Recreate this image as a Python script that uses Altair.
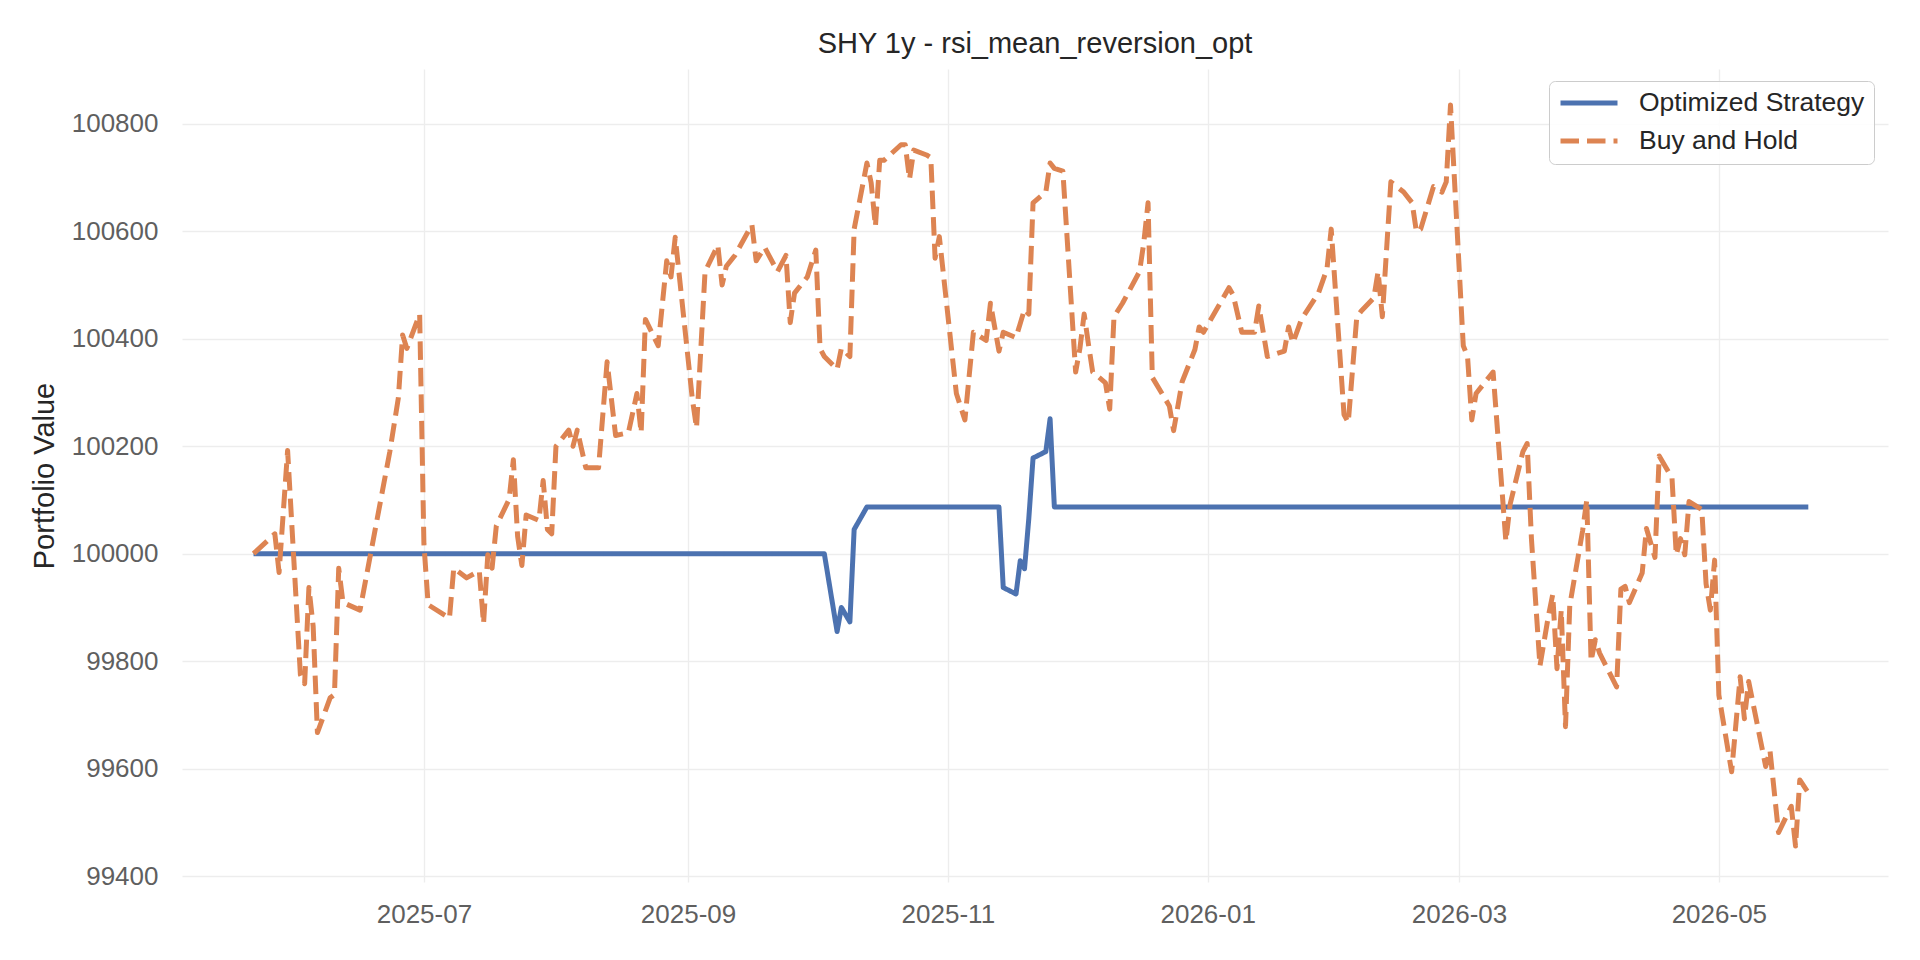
import pandas as pd
import altair as alt

# series
series_names = ["Optimized Strategy", "Buy and Hold"]
series_colors = ["#4C72B0", "#DD8452"]
series_dashes = [[1, 0], [18.5, 8]]

strat_dates = ["2025-05-22", "2025-10-03", "2025-10-06", "2025-10-07", "2025-10-09",
               "2025-10-10", "2025-10-13", "2025-11-13", "2025-11-14", "2025-11-17",
               "2025-11-18", "2025-11-19", "2025-11-20", "2025-11-21", "2025-11-24",
               "2025-11-25", "2025-11-26", "2026-05-22"]
strat_values = [100000, 100000, 99855, 99900, 99873,
                100045, 100087, 100087, 99937, 99925,
                99987, 99972, 100065, 100178, 100190,
                100251, 100087, 100087]

bh_dates = [
    "2025-05-22", "2025-05-27", "2025-05-28", "2025-05-30", "2025-06-02", "2025-06-03",
    "2025-06-04", "2025-06-05", "2025-06-06", "2025-06-09", "2025-06-10", "2025-06-11",
    "2025-06-12", "2025-06-16", "2025-06-23", "2025-06-25", "2025-06-26", "2025-06-27",
    "2025-06-30", "2025-07-01", "2025-07-02", "2025-07-07", "2025-07-08", "2025-07-11",
    "2025-07-14", "2025-07-15", "2025-07-16", "2025-07-17", "2025-07-18", "2025-07-21",
    "2025-07-22", "2025-07-23", "2025-07-24", "2025-07-25", "2025-07-28", "2025-07-29",
    "2025-07-30", "2025-07-31", "2025-08-01", "2025-08-04", "2025-08-05", "2025-08-06",
    "2025-08-08", "2025-08-11", "2025-08-13", "2025-08-14", "2025-08-15", "2025-08-18",
    "2025-08-20", "2025-08-21", "2025-08-22", "2025-08-25", "2025-08-27", "2025-08-28",
    "2025-08-29", "2025-09-02", "2025-09-03", "2025-09-05", "2025-09-08", "2025-09-09",
    "2025-09-10", "2025-09-12", "2025-09-16", "2025-09-17", "2025-09-19", "2025-09-22",
    "2025-09-24", "2025-09-25", "2025-09-26", "2025-09-29", "2025-10-01", "2025-10-02",
    "2025-10-03", "2025-10-06", "2025-10-07", "2025-10-09", "2025-10-10", "2025-10-13",
    "2025-10-14", "2025-10-15", "2025-10-16", "2025-10-17", "2025-10-21", "2025-10-22",
    "2025-10-23", "2025-10-24", "2025-10-27", "2025-10-28", "2025-10-29", "2025-10-30",
    "2025-11-03", "2025-11-05", "2025-11-07", "2025-11-10", "2025-11-11", "2025-11-13",
    "2025-11-14", "2025-11-17", "2025-11-19", "2025-11-20", "2025-11-21", "2025-11-24",
    "2025-11-25", "2025-11-26", "2025-11-28", "2025-12-01", "2025-12-02", "2025-12-03",
    "2025-12-04", "2025-12-05", "2025-12-08", "2025-12-09", "2025-12-10", "2025-12-12",
    "2025-12-16", "2025-12-17", "2025-12-18", "2025-12-19", "2025-12-23", "2025-12-24",
    "2025-12-26", "2025-12-29", "2025-12-30", "2025-12-31", "2026-01-06", "2026-01-07",
    "2026-01-09", "2026-01-12", "2026-01-13", "2026-01-15", "2026-01-19", "2026-01-20",
    "2026-01-21", "2026-01-23", "2026-01-27", "2026-01-29", "2026-01-30", "2026-02-02",
    "2026-02-03", "2026-02-05", "2026-02-06", "2026-02-09", "2026-02-10", "2026-02-11",
    "2026-02-13", "2026-02-16", "2026-02-18", "2026-02-19", "2026-02-20", "2026-02-23",
    "2026-02-25", "2026-02-26", "2026-02-27", "2026-03-02", "2026-03-03", "2026-03-04",
    "2026-03-05", "2026-03-09", "2026-03-12", "2026-03-13", "2026-03-16", "2026-03-17",
    "2026-03-18", "2026-03-20", "2026-03-22", "2026-03-23", "2026-03-24", "2026-03-25",
    "2026-03-26", "2026-03-27", "2026-03-30", "2026-03-31", "2026-04-01", "2026-04-02",
    "2026-04-03", "2026-04-07", "2026-04-08", "2026-04-09", "2026-04-10", "2026-04-13",
    "2026-04-14", "2026-04-16", "2026-04-17", "2026-04-20", "2026-04-21", "2026-04-22",
    "2026-04-23", "2026-04-24", "2026-04-27", "2026-04-28", "2026-04-29", "2026-04-30",
    "2026-05-01", "2026-05-04", "2026-05-06", "2026-05-07", "2026-05-08", "2026-05-12",
    "2026-05-13", "2026-05-15", "2026-05-18", "2026-05-19", "2026-05-20", "2026-05-22",
]
bh_values = [
    100000, 100037, 99965, 100192, 99775, 99758,
    99937, 99865, 99667, 99732, 99738, 99973,
    99909, 99895, 100190, 100290, 100407, 100382,
    100446, 100018, 99905, 99880, 99973, 99955,
    99968, 99870, 99998, 99973, 100052, 100101,
    100175, 100032, 99978, 100072, 100062, 100136,
    100045, 100037, 100200, 100230, 100200, 100230,
    100160, 100160, 100357, 100289, 100220, 100225,
    100298, 100225, 100436, 100387, 100545, 100515,
    100589, 100289, 100234, 100525, 100574, 100500,
    100535, 100555, 100612, 100545, 100570, 100525,
    100555, 100430, 100485, 100515, 100565, 100382,
    100367, 100343, 100382, 100367, 100604, 100727,
    100690, 100609, 100732, 100732, 100761, 100761,
    100697, 100751, 100742, 100737, 100550, 100590,
    100298, 100249, 100412, 100397, 100466, 100377,
    100412, 100402, 100455, 100446, 100653, 100673,
    100727, 100717, 100712, 100338, 100382, 100446,
    100390, 100338, 100318, 100269, 100441, 100466,
    100525, 100579, 100653, 100328, 100275, 100229,
    100320, 100380, 100422, 100412, 100495, 100481,
    100412, 100412, 100461, 100367, 100377, 100422,
    100392, 100436, 100485, 100530, 100604, 100259,
    100244, 100441, 100451, 100476, 100525, 100441,
    100692, 100673, 100653, 100599, 100604, 100683,
    100673, 100692, 100835, 100387, 100367, 100249,
    100298, 100338, 100023, 100092, 100190, 100205,
    100028, 99791, 99885, 99924, 99786, 99895,
    99678, 99904, 100042, 100100, 99800, 99840,
    99815, 99752, 99934, 99939, 99909, 99964,
    100047, 99993, 100182, 100141, 99998, 100028,
    99998, 100097, 100082, 99944, 99895, 99988,
    99737, 99594, 99771, 99693, 99762, 99604,
    99634, 99481, 99530, 99456, 99579, 99555,
]

y_ticks = [99400, 99600, 99800, 100000, 100200, 100400, 100600, 100800]
x_tick_months = [(2025, 7), (2025, 9), (2025, 11), (2026, 1), (2026, 3), (2026, 5)]

strategy = pd.DataFrame({"date": strat_dates, "value": strat_values, "series": series_names[0]})
buyhold = pd.DataFrame({"date": bh_dates, "value": bh_values, "series": series_names[1]})
data = pd.concat([strategy, buyhold], ignore_index=True)

FONT = "Liberation Sans"

x_ticks = [alt.DateTime(year=y, month=m, date=1, utc=True) for y, m in x_tick_months]
x_domain = [alt.DateTime(year=2025, month=5, date=5, hours=5, utc=True),
            alt.DateTime(year=2026, month=6, date=9, hours=17, utc=True)]

legend = alt.Legend(
    title=None, orient="none", legendX=1367, legendY=12,
    symbolType="stroke", symbolSize=3249, symbolStrokeWidth=5, clipHeight=26,
    labelFont=FONT, labelFontSize=26.5, labelColor="#262626", labelOffset=19,
    labelLimit=500, padding=9, rowPadding=11, fillColor="rgba(255,255,255,0.85)",
    strokeColor="#CCCCCC", cornerRadius=6,
)

base = alt.Chart(data).mark_line(strokeWidth=5, strokeJoin="round").encode(
    x=alt.X("date:T", title=None,
            scale=alt.Scale(type="utc", domain=x_domain),
            axis=alt.Axis(values=x_ticks, format="%Y-%m", labelPadding=19)),
    y=alt.Y("value:Q", title="Portfolio Value",
            scale=alt.Scale(domain=[99389, 100902], zero=False, nice=False),
            axis=alt.Axis(values=y_ticks, format="d", labelPadding=24,
                          titleAngle=270, titleX=-129, titleY=406.5,
                          titleAlign="center", titleBaseline="alphabetic")),
    color=alt.Color("series:N", title=None,
                    scale=alt.Scale(domain=series_names, range=series_colors),
                    legend=legend),
    strokeDash=alt.StrokeDash("series:N", title=None,
                              scale=alt.Scale(domain=series_names, range=series_dashes),
                              legend=legend),
)

# strategy first, buy and hold drawn on top of it
chart = alt.layer(
    base.transform_filter(alt.datum.series == series_names[0]),
    base.transform_filter(alt.datum.series == series_names[1]),
).properties(
    width=1706, height=813,
    title=alt.TitleParams("SHY 1y - rsi_mean_reversion_opt", font=FONT, fontSize=29,
                          fontWeight="normal", color="#262626", anchor="middle",
                          offset=10),
    autosize=alt.AutoSizeParams(type="none"),
    padding={"left": 174, "top": 61, "right": 24, "bottom": 70},
    background="white",
).configure_axis(
    grid=True, gridColor="#EDEDED", gridWidth=1.4,
    domain=False, ticks=False,
    labelFont=FONT, labelFontSize=26, labelColor="#5f5f5f",
    titleFont=FONT, titleFontSize=29, titleFontWeight="normal", titleColor="#262626",
).configure_view(stroke="transparent")

chart.save("out.html", embed_options={"renderer": "svg", "actions": False})
